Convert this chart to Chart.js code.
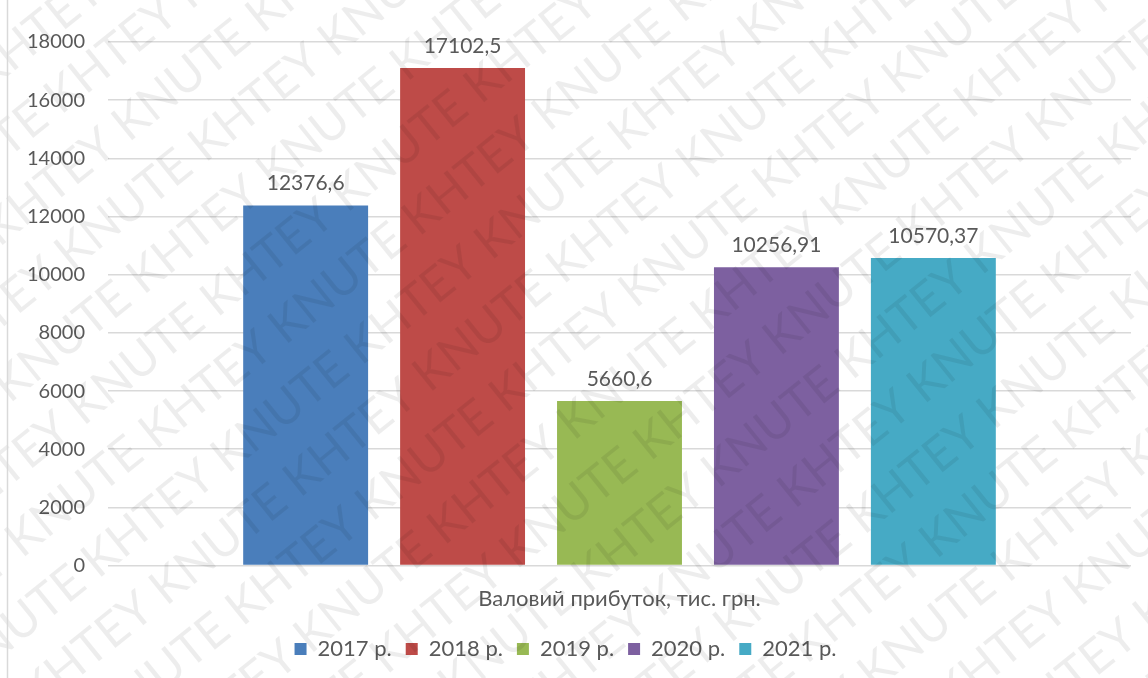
<!DOCTYPE html>
<html>
<head>
<meta charset="utf-8">
<script src="https://cdn.jsdelivr.net/npm/chart.js@4"></script>
<style>
  html, body { margin: 0; padding: 0; background: #fff; }
  #wrap { width: 1148px; height: 678px; position: relative; }
</style>
</head>
<body>
<div id="wrap"><canvas id="grafica"></canvas></div>
<script>
var categorias = ['Валовий прибуток, тис. грн.'];
var anios = ['2017 р.', '2018 р.', '2019 р.', '2020 р.', '2021 р.'];
var valores = [12376.6, 17102.5, 5660.6, 10256.91, 10570.37];
var colores = ['#4a7ebb', '#be4b48', '#98b954', '#7d60a0', '#46aac5'];
var ticksY = [0, 2000, 4000, 6000, 8000, 10000, 12000, 14000, 16000, 18000];

var colorTexto = '#595959';
var colorRejilla = '#d9d9d9';
var fuente = 'Lato, "Open Sans", sans-serif';

// una serie por año, todas en la misma categoría
var series = anios.map(function (anio, i) {
    return {
        label: anio,
        data: [valores[i]],
        backgroundColor: colores[i],
        borderWidth: 0,
        categoryPercentage: 0.767,
        barPercentage: 0.796
    };
});

// marca de agua KNUTE / KHTEY en diagonal
var marcaAgua = {
    id: 'marcaAgua',
    afterDatasetsDraw: function (chart) {
        var ctx = chart.ctx;
        ctx.save();
        ctx.fillStyle = 'rgba(0,0,0,0.07)';
        ctx.font = '48px ' + fuente;
        ctx.textBaseline = 'middle';
        ctx.translate(chart.width / 2, chart.height / 2);
        ctx.rotate(-39 * Math.PI / 180);
        var fila = 'KNUTE KHTEY KNUTE KHTEY KNUTE KHTEY KNUTE KHTEY KNUTE KHTEY KNUTE KHTEY';
        for (var k = -12; k <= 12; k++) {
            var txt = (k % 2 === 0) ? fila : 'KHTEY ' + fila;
            ctx.fillText(txt, -950 + (k * 41) % 170, k * 64);
        }
        ctx.restore();
    }
};

// etiquetas de valor encima de cada barra + borde izquierdo
var etiquetas = {
    id: 'etiquetas',
    afterDraw: function (chart) {
        var ctx = chart.ctx;
        ctx.save();
        ctx.strokeStyle = colorRejilla;
        ctx.lineWidth = 1.5;
        ctx.beginPath();
        ctx.moveTo(7.5, 0);
        ctx.lineTo(7.5, chart.height);
        ctx.stroke();
        ctx.fillStyle = colorTexto;
        ctx.font = '21px ' + fuente;
        ctx.textAlign = 'center';
        ctx.textBaseline = 'middle';
        chart.data.datasets.forEach(function (ds, i) {
            var barra = chart.getDatasetMeta(i).data[0];
            ctx.fillText(String(ds.data[0]).replace('.', ','), barra.x, barra.y - 22);
        });
        ctx.restore();
    }
};

var configuracion = {
    type: 'bar',
    data: { labels: categorias, datasets: series },
    options: {
        responsive: true,
        maintainAspectRatio: false,
        animation: false,
        layout: { padding: { top: 42, right: 17, left: 0, bottom: 8 } },
        plugins: {
            tooltip: { enabled: false },
            legend: {
                position: 'bottom',
                labels: {
                    color: colorTexto,
                    font: { family: fuente, size: 22 },
                    boxWidth: 12,
                    boxHeight: 12,
                    padding: 14
                }
            }
        },
        scales: {
            x: {
                grid: { display: false },
                border: { display: false },
                ticks: { color: colorTexto, font: { family: fuente, size: 22 }, padding: 12 }
            },
            y: {
                min: 0,
                max: 18000,
                afterBuildTicks: function (eje) {
                    eje.ticks = ticksY.map(function (v) { return { value: v }; });
                },
                afterFit: function (eje) { eje.width = 108; },
                grid: { color: colorRejilla, lineWidth: 1.5, drawTicks: false },
                border: { display: false },
                ticks: {
                    color: colorTexto,
                    font: { family: fuente, size: 20 },
                    padding: 23,
                    callback: function (v) { return String(v); }
                }
            }
        }
    },
    plugins: [marcaAgua, etiquetas]
};

var grafica = new Chart(document.getElementById('grafica'), configuracion);
</script>
</body>
</html>
